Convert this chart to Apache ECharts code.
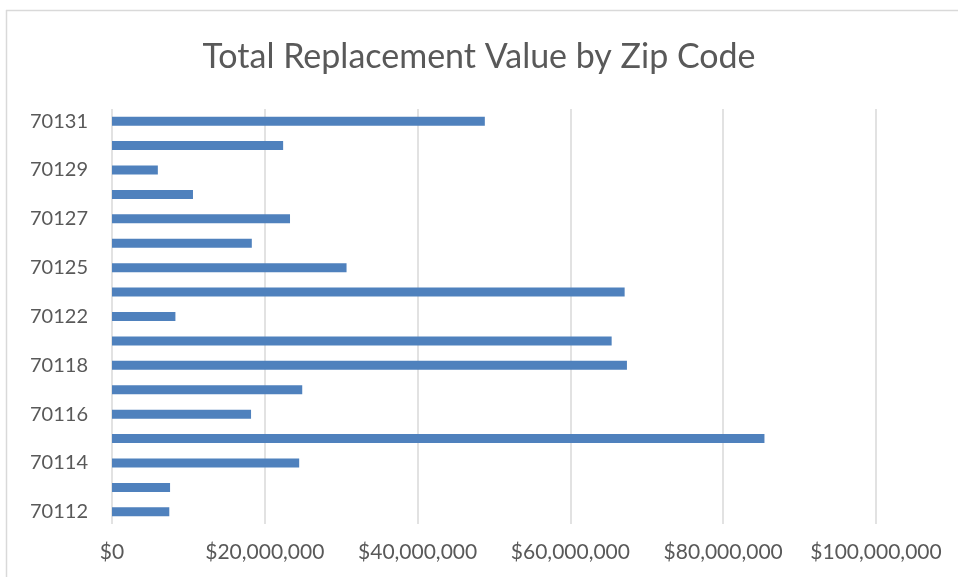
<!DOCTYPE html>
<html>
<head>
<meta charset="utf-8">
<script src="https://cdn.jsdelivr.net/npm/echarts@6/dist/echarts.min.js"></script>
<style>
  html, body { margin: 0; padding: 0; background: #fff; }
  #main { width: 958px; height: 577px; }
</style>
</head>
<body>
<div id="main"></div>
<script>
// zip codes, bottom to top
var zipCodes = ['70112', '70113', '70114', '70115', '70116', '70117', '70118', '70119', '70122',
                '70124', '70125', '70126', '70127', '70128', '70129', '70130', '70131'];
// total replacement value in dollars
var replacementValues = [7500000, 7600000, 24500000, 85400000, 18200000, 24900000, 67400000, 65400000, 8300000,
                         67100000, 30700000, 18300000, 23300000, 10600000, 6000000, 22400000, 48800000];
var xTicks = { min: 0, max: 100000000, interval: 20000000 };

var myChart = echarts.init(document.getElementById('main'));
var textColor = '#595959';
var fontFamily = 'Lato, "Open Sans", sans-serif';

var option = {
    backgroundColor: '#fff',
    animation: false,
    title: {
        text: 'Total Replacement Value by Zip Code',
        left: 'center',
        top: 35,
        textStyle: { color: textColor, fontSize: 34, fontWeight: 'normal', fontFamily: fontFamily }
    },
    graphic: [
        { type: 'line', shape: { x1: 6, y1: 10.5, x2: 958, y2: 10.5 }, style: { stroke: '#d9d9d9', lineWidth: 1.5 } },
        { type: 'line', shape: { x1: 6.5, y1: 10, x2: 6.5, y2: 577 }, style: { stroke: '#d9d9d9', lineWidth: 1.5 } }
    ],
    grid: { left: 112, right: 82, top: 109, bottom: 53, containLabel: false },
    xAxis: {
        type: 'value',
        min: xTicks.min,
        max: xTicks.max,
        interval: xTicks.interval,
        axisLine: { show: false },
        axisTick: { show: false },
        splitLine: { lineStyle: { color: '#d9d9d9', width: 1.5 } },
        axisLabel: {
            color: textColor,
            fontSize: 21,
            fontFamily: fontFamily,
            margin: 18,
            formatter: function (v) { return '$' + v.toLocaleString('en-US'); }
        }
    },
    yAxis: {
        type: 'category',
        data: zipCodes,
        axisLine: { show: false },
        axisTick: { show: false },
        axisLabel: { color: textColor, fontSize: 20, fontFamily: fontFamily, margin: 24, interval: 1 }
    },
    series: [
        {
            type: 'bar',
            data: replacementValues,
            barWidth: 9,
            itemStyle: { color: '#4f81bd' }
        }
    ]
};
myChart.setOption(option);
</script>
</body>
</html>
